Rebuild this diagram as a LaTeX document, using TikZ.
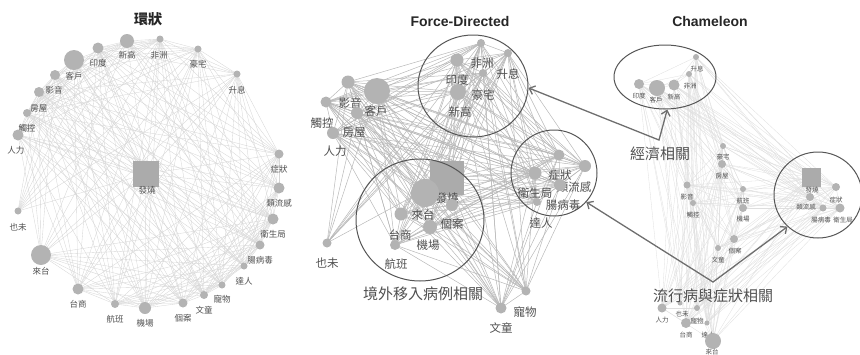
\documentclass[tikz,border=0pt]{standalone}
\usepackage{fontspec}
\setmainfont{Liberation Sans}
\newfontfamily\cjk{Noto Sans CJK TC}
\usetikzlibrary{shapes.geometric,arrows.meta}
\pgfdeclarelayer{edges}
\pgfsetlayers{edges,main}
\definecolor{dotgray}{HTML}{B3B3B3}
\definecolor{sqgray}{HTML}{ABABAB}
\definecolor{txtgray}{HTML}{505050}
\definecolor{ringgray}{HTML}{555555}
\definecolor{arrgray}{HTML}{6E6E6E}
\tikzset{
  dot/.style={circle,fill=dotgray,draw=none,inner sep=0pt},
  hub/.style={rectangle,fill=sqgray,draw=none,inner sep=0pt},
  lblA/.style={inner sep=0pt,text=txtgray,font=\cjk\fontsize{8.5}{9}\selectfont},
  lblB/.style={inner sep=0pt,text=txtgray,font=\cjk\fontsize{11.5}{12}\selectfont},
  lblC/.style={inner sep=0pt,text=txtgray,font=\cjk\fontsize{6.5}{7}\selectfont},
  biglbl/.style={inner sep=0pt,text=txtgray,font=\cjk\fontsize{15}{16}\selectfont},
  ttl/.style={inner sep=0pt,text=black!85,font=\bfseries\fontsize{14}{15}\selectfont},
  edgea/.style={draw=black!16,line width=0.35pt},
  edgeb/.style={draw=black!28,line width=0.5pt},
  edgec/.style={draw=black!13,line width=0.3pt},
  grp/.style={ellipse,draw=ringgray,line width=1pt,inner sep=0pt,fill=none},
  arr/.style={draw=arrgray,line width=1.3pt,{Straight Barb[length=5pt,width=9pt]}-{Straight Barb[length=5pt,width=9pt]}},
}
\begin{document}
\begin{tikzpicture}[x=1pt,y=-1pt]
\useasboundingbox (0,0) rectangle (860,354);

% titles
\node[ttl,font=\cjk\bfseries\fontsize{14}{15}\selectfont] (t1) at (148,19) {環狀};
\node[ttl] (t2) at (460,21) {Force-Directed};
\node[ttl] (t3) at (710,21) {Chameleon};

% ---------- circular layout ----------
\node[hub,minimum size=26pt] (a1) at (146,174) {};
\node[lblA] (a1-t) at (147,190) {發燒};
\foreach \i/\x/\y/\r/\lx/\ly/\t in {
  2/74/60/10/74/76/客戶, 3/98/48/5.5/98/63/印度, 4/127/41/7/127/55/新高,
  5/160/39/3.5/159/55/非洲, 6/198/49/3.5/198/64/豪宅, 7/237/74/3.5/237/90/升息,
  8/55/75/5/54/90/影音, 9/39/92/5/39/108/房屋, 10/27/113/4/27/128/觸控,
  11/18/135/5.5/16/150/人力, 12/279/154/4.5/279/169/症狀, 13/279/188/5.5/279/203/類流感,
  14/273/219/5.5/273/234/衛生局, 15/260/245/4.5/260/260/腸病毒, 16/244/266/3.5/244/281/達人,
  17/222/285/3.5/222/299/寵物, 18/204/295/4/204/310/文童, 19/183/303/4.5/183/318/個案,
  20/145/308/6/145/323/機場, 21/115/304/4/115/319/航班, 22/78/289/5.5/78/304/台商,
  23/41/255/10/41/271/來台, 24/18/211/3.5/18/227/也未}
{
  \node[dot,minimum size=\r*2pt] (a\i) at (\x,\y) {};
  \node[lblA] (a\i-t) at (\lx,\ly) {\t};
}

% ---------- force-directed layout ----------
\node[hub,minimum size=34pt] (b1) at (447,178) {};
\node[lblB] (b1-t) at (447,198) {發燒};
\foreach \i/\x/\y/\r/\lx/\ly/\t in {
  2/377/91/13/376/111/客戶, 3/457/60/6.5/457/80/印度, 4/458/92/8/460/112/新高,
  5/481/43/4/482/63/非洲, 6/483/73/4/483/95/豪宅, 7/508/53/4/508/74/升息,
  8/348/82/6.5/350/103/影音, 9/357/113/6/354/132/房屋, 10/326/102/5.5/322/123/觸控,
  11/333/133/6/335/151/人力, 12/559/155/5.5/560/175/症狀, 13/585/166/6/574/187/類流感,
  14/535/173/6.5/535/193/衛生局, 15/560/185/6/563/205/腸病毒, 16/537/202/4/541/223/達人,
  17/526/291/4.5/525/312/寵物, 18/501/308/5.5/501/328/文童, 19/452/205/6/452/224/個案,
  20/430/227/7/428/245/機場, 21/395/245/5/396/264/航班, 22/401/214/6.5/400/235/台商,
  23/425/193/14/423/215/來台, 24/327/243/4.5/327/263/也未}
{
  \node[dot,minimum size=\r*2pt] (b\i) at (\x,\y) {};
  \node[lblB] (b\i-t) at (\lx,\ly) {\t};
}

% ---------- chameleon layout ----------
\node[hub,minimum size=19pt] (c1) at (811.5,177.5) {};
\node[lblC] (c1-t) at (812,190) {發燒};
\foreach \i/\x/\y/\r/\lx/\ly/\t in {
  2/657/88/8/656/100/客戶, 3/639/84/5/639/96/印度, 4/674/85/5.5/674/97/新高,
  5/689/74/3/690/86/非洲, 6/723/146/3/723/157/豪宅, 7/696/57/3/697/69/升息,
  8/687/185/3.5/687/197/影音, 9/722/164/4/722/176/房屋, 10/693/203/3/693/215/觸控,
  11/662/308/4.5/662/320/人力, 12/836/187/4/836/200/症狀, 13/810/197/4/806/207/類流感,
  14/840/208/4.5/843/220/衛生局, 15/823/208/3.5/821/220/腸病毒, 16/707/323/2.5/708/335/達人,
  17/697/308/3/697/321/寵物, 18/718/248/3/718/260/文童, 19/734/239/4/735/251/個案,
  20/743/208/4/743/219/機場, 21/743/189/3/743/201/航班, 22/686/323/5/686/335/台商,
  23/713/341/8/712/352/來台, 24/680/303/2.5/682/314/也未}
{
  \node[dot,minimum size=\r*2pt] (c\i) at (\x,\y) {};
  \node[lblC] (c\i-t) at (\lx,\ly) {\t};
}

% ---------- the same keyword graph, drawn in each layout ----------
\begin{pgfonlayer}{edges}
\foreach \p in {a,b,c}{
  \foreach \i in {1,...,23}{
    \pgfmathtruncatemacro\jstart{\i+1}
    \foreach \j in {\jstart,...,24}{
      \pgfmathtruncatemacro\rnd{mod(\i*37+\j*53+\i*\j*11,100)}
      \ifnum\i=1 \def\rnd{0}\fi
      \ifnum\rnd<82 \draw[edge\p] (\p\i.center) -- (\p\j.center);\fi
    }
  }
}
\end{pgfonlayer}

% ---------- groups ----------
\node[grp,minimum width=110pt,minimum height=102pt] (fdEcon) at (473,86) {};
\node[grp,minimum width=86pt,minimum height=86pt] (fdSym) at (554,173) {};
\node[grp,minimum width=128pt,minimum height=122pt] (fdImp) at (420,220) {};
\node[grp,minimum width=102pt,minimum height=64pt] (chEcon) at (665,77) {};
\node[grp,minimum width=88pt,minimum height=86pt] (chSym) at (818,195) {};

\node[biglbl] (econ-t) at (660,154) {經濟相關};
\node[biglbl] (imp-t) at (423,294) {境外移入病例相關};
\node[biglbl] (sym-t) at (713,296) {流行病與症狀相關};

\coordinate (econPivot) at (659,140);
\coordinate (symPivot) at (713,282);
\draw[arr] (fdEcon.-2) -- (econPivot) -- (chEcon.-86);
\draw[arr] (fdSym.-42) -- (symPivot) -- (chSym.-134);
\end{tikzpicture}
\end{document}
